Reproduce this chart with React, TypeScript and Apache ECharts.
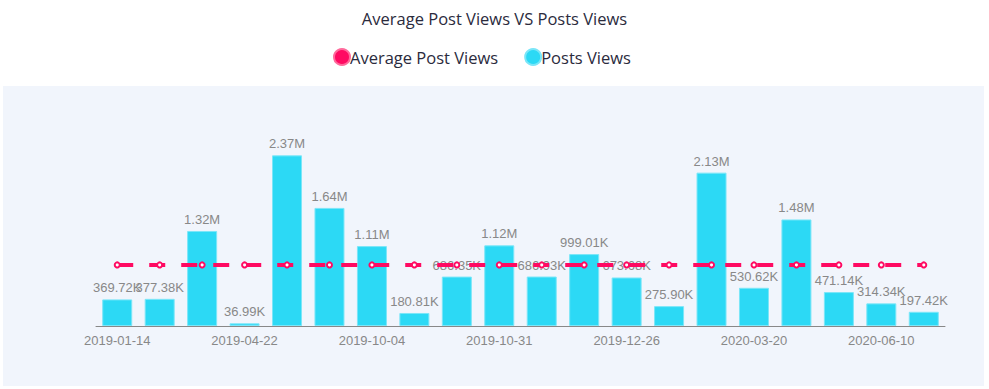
import React, { useEffect, useRef } from "react";
import * as echarts from "echarts";

const categories = [
  "2019-01-14", "2019-02-18", "2019-03-20", "2019-04-22", "2019-05-27",
  "2019-07-01", "2019-10-04", "2019-10-11", "2019-10-20", "2019-10-31",
  "2019-11-15", "2019-12-02", "2019-12-26", "2020-01-20", "2020-02-24",
  "2020-03-20", "2020-04-22", "2020-05-15", "2020-06-10", "2020-07-01",
];
const postsViews = [
  369720, 377380, 1320000, 36990, 2370000, 1640000, 1110000, 180810, 686350, 1120000,
  686930, 999010, 673680, 275900, 2130000, 530620, 1480000, 471140, 314340, 197420,
];
const averageViews = [
  848514, 848514, 848514, 848514, 848514, 848514, 848514, 848514, 848514, 848514,
  848514, 848514, 848514, 848514, 848514, 848514, 848514, 848514, 848514, 848514,
];

function fmt(v: number): string {
  if (v >= 1e6) return (v / 1e6).toFixed(2) + "M";
  return (v / 1e3).toFixed(2) + "K";
}

export default function App() {
  const ref = useRef<HTMLDivElement>(null);
  useEffect(() => {
    if (!ref.current) return;
    const chart = echarts.init(ref.current, undefined, { renderer: "svg" });
    const font = "'Open Sans', 'Noto Sans', sans-serif";
    chart.setOption({
      animation: false,
      textStyle: { fontFamily: font },
      graphic: [
        {
          type: "rect",
          z: -10,
          silent: true,
          shape: { x: 3, y: 86, width: 981, height: 300 },
          style: { fill: "#f1f5fc" },
        },
      ],
      title: {
        text: "Average Post Views VS Posts Views",
        left: "center",
        top: 5,
        textStyle: { fontSize: 16.5, fontWeight: "normal", color: "#2b2b3d", fontFamily: font },
      },
      legend: {
        top: 43,
        left: 328,
        icon: "circle",
        itemWidth: 16,
        itemHeight: 16,
        itemGap: 26,
        textStyle: { fontSize: 16.5, color: "#2b2b3d", fontFamily: font, padding: [0, 0, 0, -5] },
        data: ["Average Post Views", "Posts Views"],
      },
      grid: { left: 96, right: 44, top: 146, bottom: 63 },
      xAxis: {
        type: "category",
        data: categories,
        axisLine: { lineStyle: { color: "#888" } },
        axisTick: { alignWithLabel: true, interval: 2, lineStyle: { color: "#888" } },
        axisLabel: { interval: 2, color: "#888", fontSize: 13, fontFamily: "'Liberation Sans', sans-serif", margin: 8 },
      },
      yAxis: { type: "value", show: false, max: 2500000, splitLine: { show: false } },
      series: [
        {
          name: "Average Post Views",
          type: "line",
          data: averageViews,
          z: 3,
          symbol: "emptyCircle",
          symbolSize: 5,
          itemStyle: { color: "#ff0a62", borderColor: "#ff6a9c", borderWidth: 1.5 },
          lineStyle: { color: "#ff0a62", width: 4, type: [16, 16] },
        },
        {
          name: "Posts Views",
          type: "bar",
          data: postsViews,
          barWidth: 30,
          itemStyle: { color: "#2cd9f5", borderColor: "#7be6f8", borderWidth: 1 },
          label: {
            show: true,
            position: "top",
            color: "#888",
            fontSize: 13,
            fontFamily: "'Liberation Sans', sans-serif",
            formatter: (p: any) => fmt(p.value),
          },
        },
      ],
    });
    return () => chart.dispose();
  }, []);
  return <div ref={ref} style={{ width: 989, height: 389, position: "absolute", left: 0, top: 0 }} />;
}
